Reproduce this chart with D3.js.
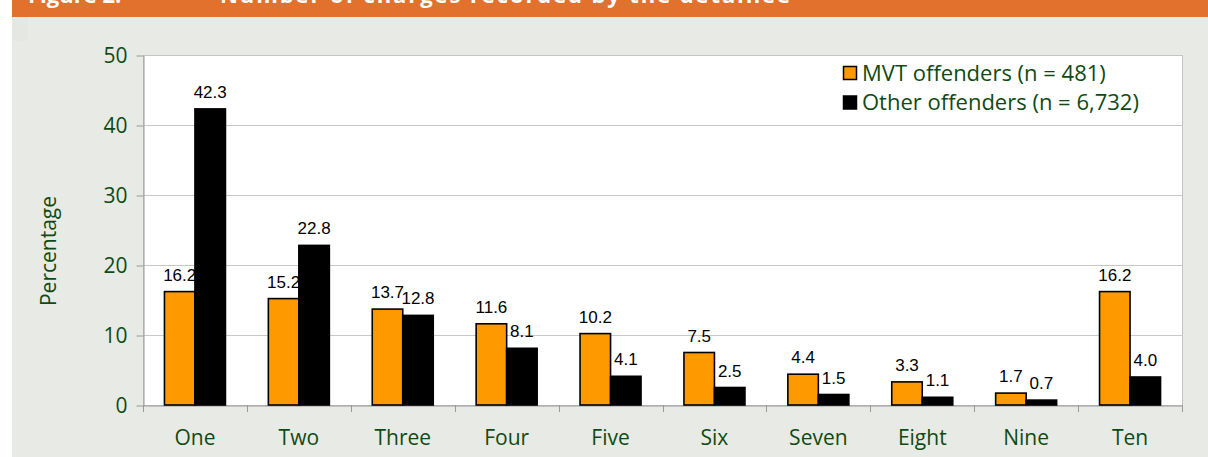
<!DOCTYPE html>
<html>
<head>
<meta charset="utf-8">
<title>Number of charges recorded by the detainee</title>
<script src="https://d3js.org/d3.v7.min.js"></script>
<style>
  body { margin: 0; background: #fff; }
  svg { display: block; }
</style>
</head>
<body>
<svg id="chart"></svg>
<script>

// data
var categories = ['One', 'Two', 'Three', 'Four', 'Five', 'Six', 'Seven', 'Eight', 'Nine', 'Ten']
var mvtValues = [16.2, 15.2, 13.7, 11.6, 10.2, 7.5, 4.4, 3.3, 1.7, 16.2]
var otherValues = [42.3, 22.8, 12.8, 8.1, 4.1, 2.5, 1.5, 1.1, 0.7, 4.0]
var seriesNames = ['MVT offenders (n = 481)', 'Other offenders (n = 6,732)']
var yTicks = [0, 10, 20, 30, 40, 50]
var titleLabel = 'Figure 2:'
var titleText = 'Number of charges recorded by the detainee'

renderChart()

function renderChart(){

  var W = 1208, H = 457
  var green = '#0f4a14'
  var colors = ['#ff9900', '#000000']
  var axisFont = '21px'

  var svg = d3.select('#chart')
    .attr('width', W)
    .attr('height', H)

  // panel background + banner
  svg.append('rect')
    .attr('x', 12).attr('y', 0)
    .attr('width', W - 12).attr('height', H)
    .attr('fill', '#e8eae5')

  svg.append('rect')
    .attr('x', 12).attr('y', 17)
    .attr('width', 16).attr('height', 24)
    .attr('fill', '#e5e8e2')

  svg.append('rect')
    .attr('x', 12).attr('y', 0)
    .attr('width', W - 12).attr('height', 17)
    .attr('fill', '#e2712e')

  svg.append('text')
    .attr('x', 28).attr('y', 3)
    .attr('fill', '#fff')
    .style('font-family', 'Open Sans')
    .style('font-weight', 'bold')
    .style('font-size', '22px')
    .text(titleLabel)

  svg.append('text')
    .attr('x', 220).attr('y', 3)
    .attr('fill', '#fff')
    .attr('textLength', 570)
    .style('font-family', 'Open Sans')
    .style('font-weight', 'bold')
    .style('font-size', '22px')
    .text(titleText)

  // plot area
  var pLeft = 143, pRight = 1182, pTop = 55, pBottom = 405

  var x = d3.scaleBand()
    .domain(categories)
    .range([pLeft, pRight])

  var y = d3.scaleLinear()
    .domain([0, 50])
    .range([pBottom, pTop])

  var barW = 30.5
  var groupOffset = x.bandwidth() / 2 - barW

  svg.append('rect')
    .attr('x', pLeft + 0.5).attr('y', pTop + 0.5)
    .attr('width', pRight - pLeft).attr('height', pBottom - pTop)
    .attr('fill', '#fff')
    .attr('stroke', '#c4c4c4')
    .attr('stroke-width', 1)

  // gridlines
  svg.append('g')
    .selectAll('line')
    .data(yTicks.filter((d) => d > 0 && d < 50))
    .enter()
    .append('line')
    .attr('x1', pLeft).attr('x2', pRight)
    .attr('y1', (d) => Math.round(y(d)) + 0.5)
    .attr('y2', (d) => Math.round(y(d)) + 0.5)
    .attr('stroke', '#c8c8c8')

  // y axis
  var yAxis = svg.append('g')
    .attr('transform', 'translate(' + (pLeft + 0.5) + ',0.5)')
    .call(d3.axisLeft(y).tickValues(yTicks).tickSize(7).tickPadding(9).tickSizeOuter(0))
  yAxis.select('.domain').attr('stroke', '#9a9a9a')
  yAxis.selectAll('.tick line').attr('stroke', '#9a9a9a')
  yAxis.selectAll('text')
    .attr('fill', green)
    .style('font-family', 'Open Sans')
    .style('font-size', axisFont)

  // x axis
  var xAxis = svg.append('g')
    .attr('transform', 'translate(0,' + (pBottom + 0.5) + ')')
    .call(d3.axisBottom(x).tickSize(0).tickPadding(25).tickSizeOuter(0))
  xAxis.select('.domain').attr('stroke', '#9a9a9a')
  xAxis.selectAll('text')
    .attr('fill', green)
    .style('font-family', 'Open Sans')
    .style('font-size', axisFont)

  // category boundary ticks
  svg.append('g')
    .selectAll('line')
    .data(categories.concat(['end']))
    .enter()
    .append('line')
    .attr('x1', (d, i) => Math.round(pLeft + i * x.step()) + 0.5)
    .attr('x2', (d, i) => Math.round(pLeft + i * x.step()) + 0.5)
    .attr('y1', pBottom)
    .attr('y2', pBottom + 7)
    .attr('stroke', '#9a9a9a')

  // bars
  var series = [mvtValues, otherValues]
  var rows = []
  series.forEach((vals, s) => {
    vals.forEach((v, i) => {
      rows.push({cat: categories[i], s: s, v: v})
    })
  })

  svg.append('g')
    .selectAll('rect')
    .data(rows)
    .enter()
    .append('rect')
    .attr('x', (d) => x(d.cat) + groupOffset + d.s * barW)
    .attr('y', (d) => y(d.v))
    .attr('width', barW)
    .attr('height', (d) => pBottom - y(d.v))
    .attr('fill', (d) => colors[d.s])
    .attr('stroke', '#000')
    .attr('stroke-width', 1.6)

  // value labels
  svg.append('g')
    .selectAll('text')
    .data(rows)
    .enter()
    .append('text')
    .attr('x', (d) => x(d.cat) + groupOffset + d.s * barW + barW / 2)
    .attr('y', (d) => y(d.v) - 11)
    .attr('text-anchor', 'middle')
    .attr('fill', '#000')
    .style('font-family', 'Liberation Sans, Arial, sans-serif')
    .style('font-size', '17px')
    .text((d) => d.v.toFixed(1))

  // y axis title
  svg.append('text')
    .attr('transform', 'translate(56,251) rotate(-90)')
    .attr('text-anchor', 'middle')
    .attr('fill', green)
    .style('font-family', 'Open Sans')
    .style('font-size', axisFont)
    .text('Percentage')

  // legend
  var legend = svg.append('g')
    .selectAll('g')
    .data(seriesNames)
    .enter()
    .append('g')
    .attr('transform', (d, i) => 'translate(843,' + (66 + i * 29.5) + ')')

  legend.append('rect')
    .attr('x', 0.5).attr('y', 0.5)
    .attr('width', 13).attr('height', 13)
    .attr('fill', (d, i) => colors[i])
    .attr('stroke', '#000')
    .attr('stroke-width', 1.5)

  legend.append('text')
    .attr('x', 19)
    .attr('y', 7)
    .attr('dy', '0.35em')
    .attr('fill', green)
    .style('font-family', 'Open Sans')
    .style('font-size', '22px')
    .text((d) => d)
}

</script>
</body>
</html>
